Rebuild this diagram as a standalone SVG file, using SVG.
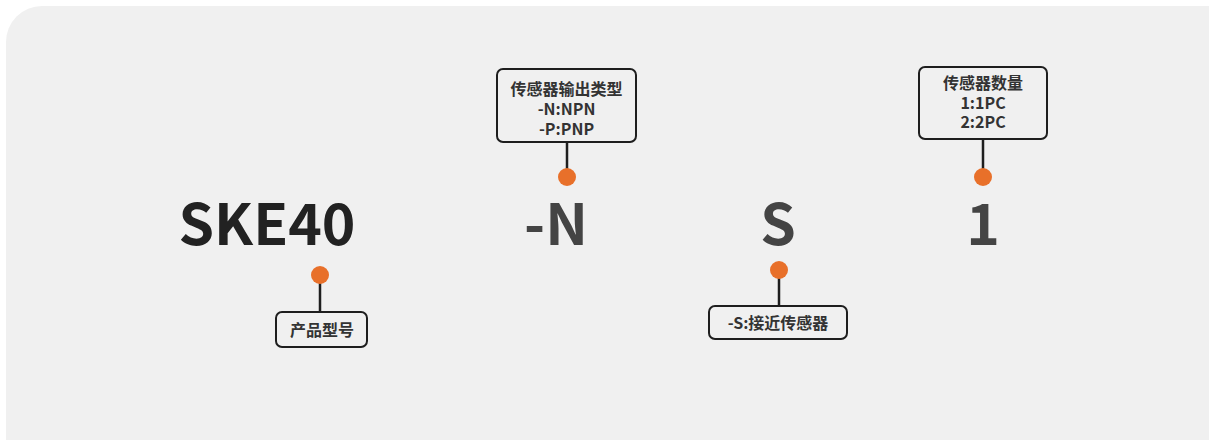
<svg xmlns="http://www.w3.org/2000/svg" width="1209" height="440" viewBox="0 0 1209 440">
<style>
.big{font-family:"Noto Sans CJK SC","Noto Sans",sans-serif;font-weight:bold;font-size:57px;text-anchor:middle}
.lbl{font-family:"Noto Sans CJK SC","Noto Sans",sans-serif;font-weight:bold;font-size:16px;fill:#333;text-anchor:middle}
.box{fill:none;stroke:#1e1e1e;stroke-width:2}
.ln{stroke:#1e1e1e;stroke-width:2.5}
.dot{fill:#e8702a}
</style>
<rect x="0" y="0" width="1209" height="440" fill="#ffffff"/>
<rect x="6" y="6" width="1240" height="470" rx="36" fill="#f0f0f0"/>
<g id="connectors">
<line class="ln" x1="320" y1="283" x2="320" y2="313"/>
<line class="ln" x1="567" y1="142" x2="567" y2="170"/>
<line class="ln" x1="779" y1="278" x2="779" y2="307"/>
<line class="ln" x1="983" y1="139" x2="983" y2="170"/>
</g>
<g id="code-ske40">
<text class="big" x="267" y="245" fill="#222">SKE40</text>
<circle class="dot" cx="320" cy="275" r="9"/>
</g>
<g id="code-n">
<text class="big" x="556" y="245" fill="#444">-N</text>
<circle class="dot" cx="567" cy="177" r="9"/>
</g>
<g id="code-s">
<text class="big" x="778" y="245" fill="#444">S</text>
<circle class="dot" cx="779" cy="270" r="9"/>
</g>
<g id="code-1">
<text class="big" x="983" y="245" fill="#444">1</text>
<circle class="dot" cx="983" cy="177" r="9"/>
</g>
<g id="label-model">
<rect class="box" x="276" y="312" width="91" height="35" rx="6"/>
<text class="lbl" x="322" y="335.5">产品型号</text>
</g>
<g id="label-output">
<rect class="box" x="497" y="69" width="139" height="73" rx="6"/>
<text class="lbl" x="566.5" y="95">传感器输出类型</text>
<text class="lbl" x="566.5" y="115">-N:NPN</text>
<text class="lbl" x="566.5" y="135">-P:PNP</text>
</g>
<g id="label-sensor">
<rect class="box" x="709" y="306" width="138" height="33" rx="6"/>
<text class="lbl" x="778" y="329">-S:接近传感器</text>
</g>
<g id="label-qty">
<rect class="box" x="919" y="67" width="128" height="72" rx="6"/>
<text class="lbl" x="983" y="89">传感器数量</text>
<text class="lbl" x="983" y="108.5">1:1PC</text>
<text class="lbl" x="983" y="128">2:2PC</text>
</g>
</svg>
